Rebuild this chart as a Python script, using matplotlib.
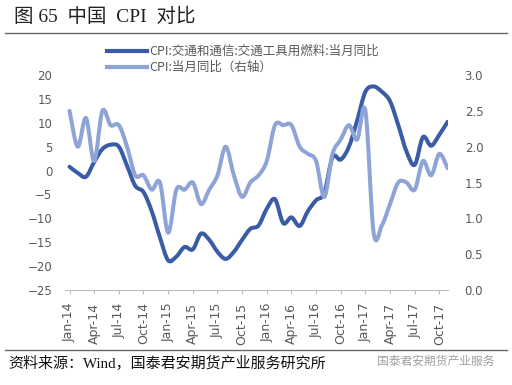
import numpy as np
import matplotlib
matplotlib.use("Agg")
import matplotlib.pyplot as plt
from matplotlib.path import Path
from matplotlib.patches import PathPatch
from matplotlib.lines import Line2D

# ── Data (monthly, Jan-14 .. Nov-17) ─────────────────────────────────────────
fuel_yoy = [0.8, -0.5, -1.3, 1.8, 4.5, 5.4, 5.0, 1.0, -3.2, -4.5, -8.5, -14.0,
            -18.8, -18.0, -16.0, -16.5, -13.2, -14.5, -17.0, -18.5, -17.0, -14.5, -12.2, -11.5,
            -8.0, -6.0, -11.0, -9.8, -11.6, -8.5, -6.2, -4.7, 2.8, 2.3, 5.0, 10.5,
            16.5, 17.6, 16.5, 14.5, 9.5, 4.0, 1.2, 7.0, 5.2, 7.5, 10.2]
cpi_yoy = [2.5, 2.0, 2.4, 1.8, 2.5, 2.3, 2.3, 2.0, 1.6, 1.6, 1.4, 1.5,
           0.8, 1.4, 1.4, 1.5, 1.2, 1.4, 1.6, 2.0, 1.6, 1.3, 1.5, 1.6,
           1.8, 2.3, 2.3, 2.3, 2.0, 1.9, 1.8, 1.3, 1.9, 2.1, 2.3, 2.1,
           2.5, 0.8, 0.9, 1.2, 1.5, 1.5, 1.4, 1.8, 1.6, 1.9, 1.7]
tick_labels = ["Jan-14", "Apr-14", "Jul-14", "Oct-14", "Jan-15", "Apr-15", "Jul-15",
               "Oct-15", "Jan-16", "Apr-16", "Jul-16", "Oct-16", "Jan-17", "Apr-17",
               "Jul-17", "Oct-17"]
label_fuel = "CPI:交通和通信:交通工具用燃料:当月同比"
label_cpi = "CPI:当月同比（右轴）"

months = np.arange(len(fuel_yoy))

DARK = "#3A5CA6"
LIGHT = "#8FA4D6"
TXT = "#595959"
CJK = ["Noto Sans CJK SC", "DejaVu Sans"]
SERIF = ["Liberation Serif", "Noto Sans CJK SC"]


def smooth_path(x, y):
    # Catmull-Rom style bezier through the points (like Excel "smoothed line")
    x = np.asarray(x, float)
    y = np.asarray(y, float)
    n = len(x)
    verts = [(x[0], y[0])]
    codes = [Path.MOVETO]
    for i in range(n - 1):
        a = max(i - 1, 0)
        d = min(i + 2, n - 1)
        c1 = (x[i] + (x[i + 1] - x[a]) / 6, y[i] + (y[i + 1] - y[a]) / 6)
        c2 = (x[i + 1] - (x[d] - x[i]) / 6, y[i + 1] - (y[d] - y[i]) / 6)
        verts += [c1, c2, (x[i + 1], y[i + 1])]
        codes += [Path.CURVE4] * 3
    return Path(verts, codes)


W, H = 512, 385
fig = plt.figure(figsize=(W / 100, H / 100), dpi=100)
fig.patch.set_facecolor("white")

ax = fig.add_axes([65 / W, 1 - 290 / H, (448 - 65) / W, (290 - 75) / H])
ax2 = ax.twinx()

ax.add_patch(PathPatch(smooth_path(months, fuel_yoy), facecolor="none",
                       edgecolor=DARK, lw=2.9, capstyle="round", joinstyle="round"))
ax2.add_patch(PathPatch(smooth_path(months, cpi_yoy), facecolor="none",
                        edgecolor=LIGHT, lw=2.9, capstyle="round", joinstyle="round"))

ax.set_xlim(-0.55, 46.05)
ax.set_ylim(-25, 20)
ax2.set_ylim(0, 3)
ax.set_yticks(np.arange(-25, 21, 5))
ax2.set_yticks(np.arange(0, 3.01, 0.5))
ax2.set_yticklabels([f"{v:.1f}" for v in np.arange(0, 3.01, 0.5)])
ax.set_xticks(months[::3])
ax.set_xticklabels(tick_labels, rotation=90)

for a in (ax, ax2):
    for s in ["top", "left", "right", "bottom"]:
        a.spines[s].set_visible(False)
ax.spines["bottom"].set_visible(True)
ax.spines["bottom"].set_color("#BFBFBF")
ax.tick_params(axis="y", length=0, pad=9, labelsize=8.5, labelcolor=TXT)
ax2.tick_params(axis="y", length=0, pad=12, labelsize=8.5, labelcolor=TXT)
ax.tick_params(axis="x", length=3, color="#BFBFBF", pad=6, labelsize=9, labelcolor=TXT)

# ── Legend ───────────────────────────────────────────────────────────────────
handles = [Line2D([], [], color=DARK, lw=3.0), Line2D([], [], color=LIGHT, lw=3.0)]
leg = fig.legend(handles, [label_fuel, label_cpi], loc="upper left",
                 bbox_to_anchor=(107 / W, 1 - 45 / H), frameon=False,
                 handlelength=3.2, handletextpad=0.2, labelspacing=0.25,
                 borderpad=0, borderaxespad=0, prop={"family": CJK, "size": 9})
for t in leg.get_texts():
    t.set_color(TXT)

# ── Title, rules, source ─────────────────────────────────────────────────────
fig.text(14 / W, 1 - 17 / H, "图 65  中国  CPI  对比", family=SERIF, fontsize=14,
         va="center", ha="left", color="#222222")
fig.add_artist(Line2D([5 / W, 507 / W], [1 - 33 / H] * 2, color="#666666", lw=1.0))
fig.add_artist(Line2D([5 / W, 507 / W], [1 - 350 / H] * 2, color="#666666", lw=1.0))
fig.text(8 / W, 1 - 363 / H, "资料来源：Wind，国泰君安期货产业服务研究所", family=SERIF,
         fontsize=10.8, va="center", ha="left", color="#111111")
fig.text(495 / W, 1 - 361 / H, "国泰君安期货产业服务", family=CJK, fontsize=8.5,
         va="center", ha="right", color="#A0A0A0")

plt.savefig("out.png", dpi=100, facecolor="white")
plt.close()
